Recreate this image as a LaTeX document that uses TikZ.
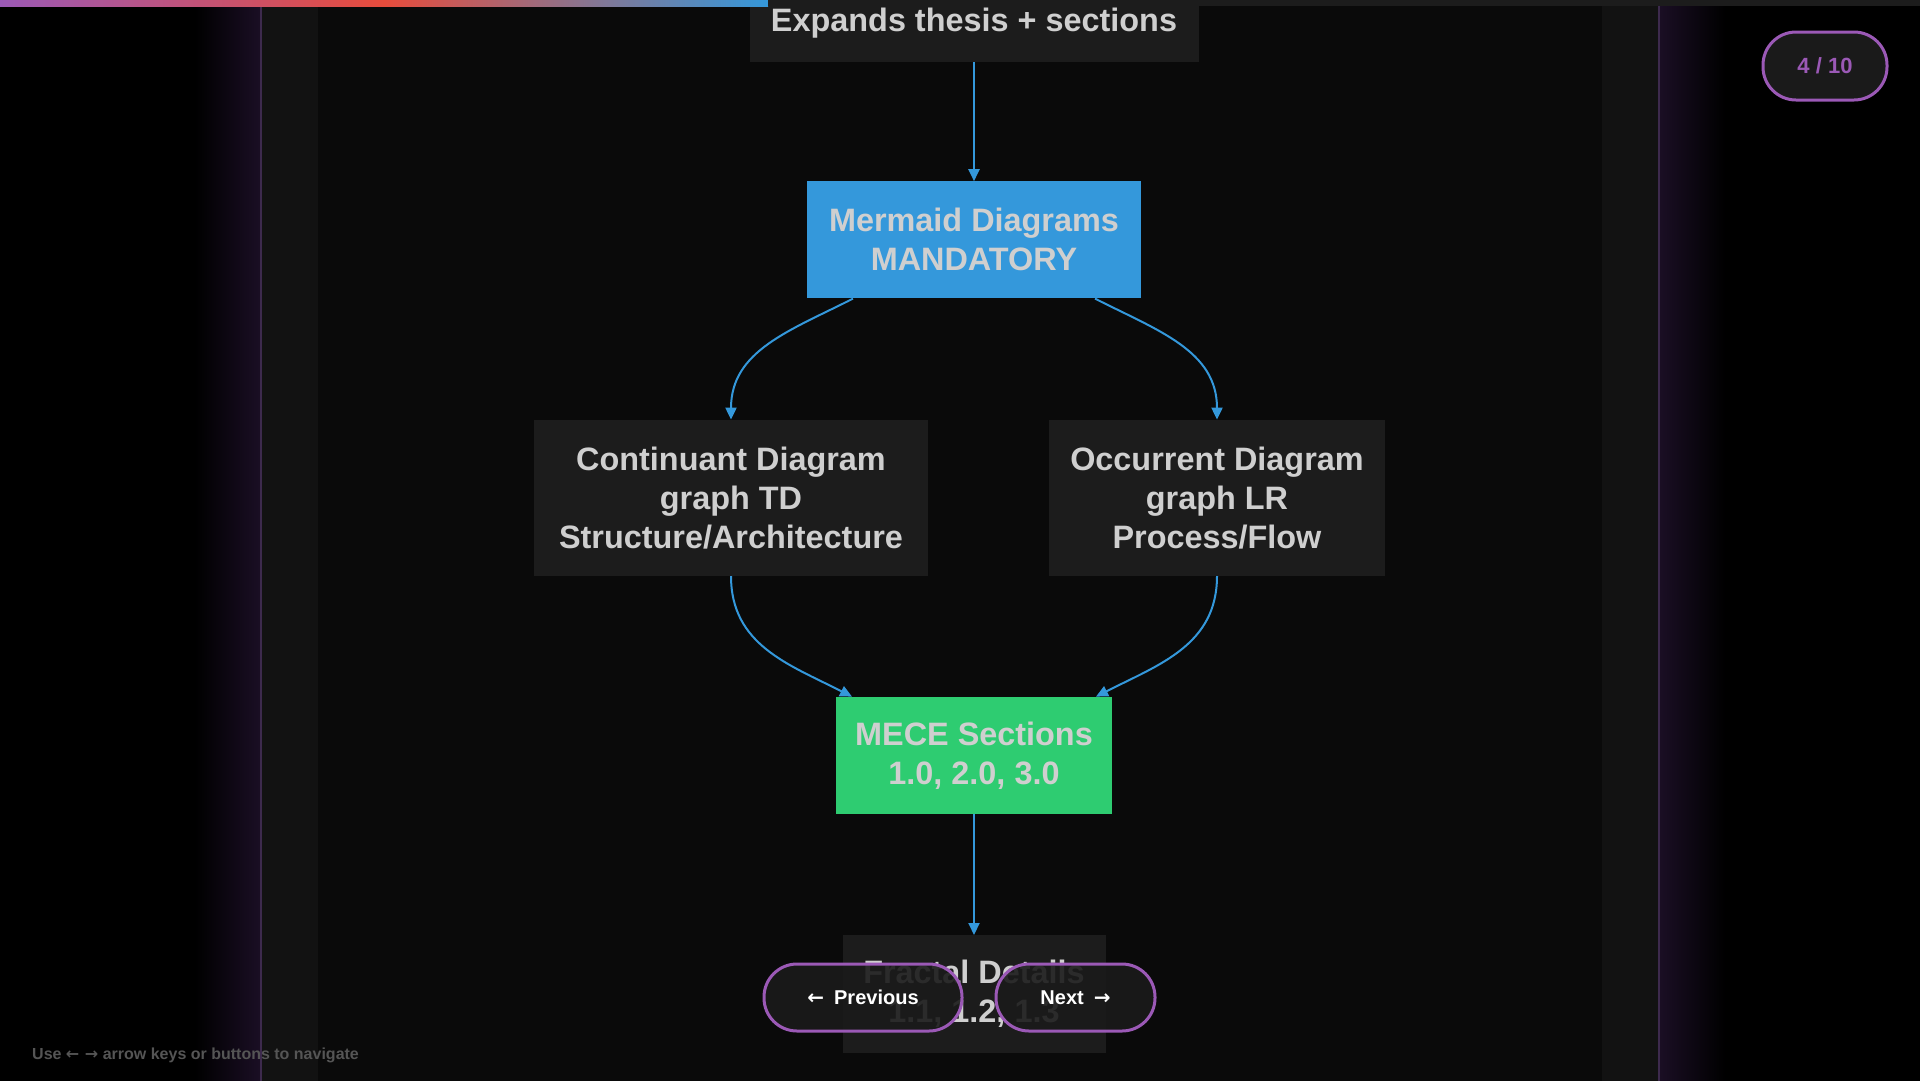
\documentclass[tikz,border=0pt]{standalone}
\usepackage{fontspec}
\setmainfont{Liberation Sans}
\newfontfamily\arrowfont{DejaVu Sans}
\usetikzlibrary{positioning,arrows.meta,calc}

\definecolor{bgmain}{HTML}{0A0A0A}
\definecolor{bgstrip}{HTML}{121212}
\definecolor{boxgray}{HTML}{1C1C1C}
\definecolor{btngray}{HTML}{1A1A1A}
\definecolor{mblue}{HTML}{3498DB}
\definecolor{mgreen}{HTML}{2ECC71}
\definecolor{mpurple}{HTML}{9B59B6}
\definecolor{mred}{HTML}{E74C3C}
\definecolor{txtgray}{HTML}{CFCFCF}
\definecolor{edgepurple}{HTML}{3D2A4D}
\definecolor{glowpurple}{HTML}{1A0E24}
\definecolor{hintgray}{HTML}{555555}

\begin{document}
\begin{tikzpicture}[x=1pt, y=-1pt,
    boxnode/.style={rectangle, inner sep=0pt, align=center, text=txtgray,
        font=\fontsize{32.4}{39}\selectfont\bfseries},
    graynode/.style={boxnode, fill=boxgray},
    bluenode/.style={boxnode, fill=mblue},
    greennode/.style={boxnode, fill=mgreen},
    flowline/.style={draw=mblue, line width=2pt, -{Triangle[length=12pt, width=11pt]}},
    pillbtn/.style={rectangle, rounded corners=33pt, draw=mpurple, line width=3pt,
        fill=btngray, fill opacity=0.9, text opacity=1, text=white, minimum height=67,
        font=\fontsize{20}{24}\selectfont\bfseries}
    ]
        \useasboundingbox (0,0) rectangle (1920,1080);
        \clip (0,0) rectangle (1920,1080);

        %Background
        \fill[black] (-5,-5) rectangle (1925,1085);
        \shade[left color=black, right color=glowpurple] (195,-5) rectangle (260,1085);
        \shade[left color=glowpurple, right color=black] (1660,-5) rectangle (1725,1085);
        \fill[bgstrip] (262,-5) rectangle (318,1085);
        \fill[bgstrip] (1602,-5) rectangle (1658,1085);
        \fill[bgmain] (318,-5) rectangle (1602,1085);
        \fill[edgepurple] (260,-5) rectangle (262,1085);
        \fill[edgepurple] (1658,-5) rectangle (1660,1085);

        %Nodes
        \node[graynode, minimum width=449, minimum height=78]
            (thesis) at (974,23)                        {Expands thesis + sections};
        \node[bluenode, minimum width=334, minimum height=117]
            (merm)  [below=119pt of thesis]             {Mermaid Diagrams\\MANDATORY};
        \node[graynode, minimum width=394, minimum height=156]
            (cont)  [below=121pt of merm, xshift=-243pt] {Continuant Diagram\\graph TD\\Structure/Architecture};
        \node[graynode, minimum width=336, minimum height=156]
            (occ)   [below=121pt of merm, xshift=243pt]  {Occurrent Diagram\\graph LR\\Process/Flow};
        \node[greennode, minimum width=276, minimum height=117]
            (mece)  [below=398pt of merm]               {MECE Sections\\1.0, 2.0, 3.0};
        \node[graynode, minimum width=263, minimum height=118]
            (frac)  [below=121pt of mece]               {Fractal Details\\1.1, 1.2, 1.3};

        %Lines
        \draw[flowline] (thesis.south) -- (merm.north);
        \draw[flowline] ($(merm.south)+(-121,0)$) .. controls +(-63,32) and +(0,-69) .. (cont.north);
        \draw[flowline] ($(merm.south)+(121,0)$) .. controls +(63,32) and +(0,-69) .. (occ.north);
        \draw[flowline] (cont.south) .. controls +(0,69) and +(-63,-32) .. ($(mece.north)+(-122,0)$);
        \draw[flowline] (occ.south) .. controls +(0,69) and +(63,-32) .. ($(mece.north)+(122,0)$);
        \draw[flowline] (mece.south) -- (frac.north);

        %Progress bar
        \shade[left color=mpurple, right color=mred] (0,0) rectangle (384,6);
        \shade[left color=mred, right color=mblue] (384,0) rectangle (768,6);
        \fill[boxgray] (768,0) rectangle (1920,6);

        %Buttons
        \node[pillbtn, minimum width=198] (prevbtn) at (863,997.5)  {{\arrowfont ←}\hspace{10pt}Previous};
        \node[pillbtn, minimum width=159] (nextbtn) at (1075.5,997.5) {Next\hspace{10pt}{\arrowfont →}};
        \node[pillbtn, minimum width=124, minimum height=68, text=mpurple, fill opacity=1,
            font=\fontsize{22}{26}\selectfont\bfseries]
            (pagecount) at (1825,66) {4 / 10};
        \node[anchor=base west, inner sep=0pt, text=hintgray,
            font=\fontsize{16}{19}\selectfont\bfseries]
            (hint) at (32,1059) {Use {\arrowfont ← →} arrow keys or buttons to navigate};
\end{tikzpicture}
\end{document}
